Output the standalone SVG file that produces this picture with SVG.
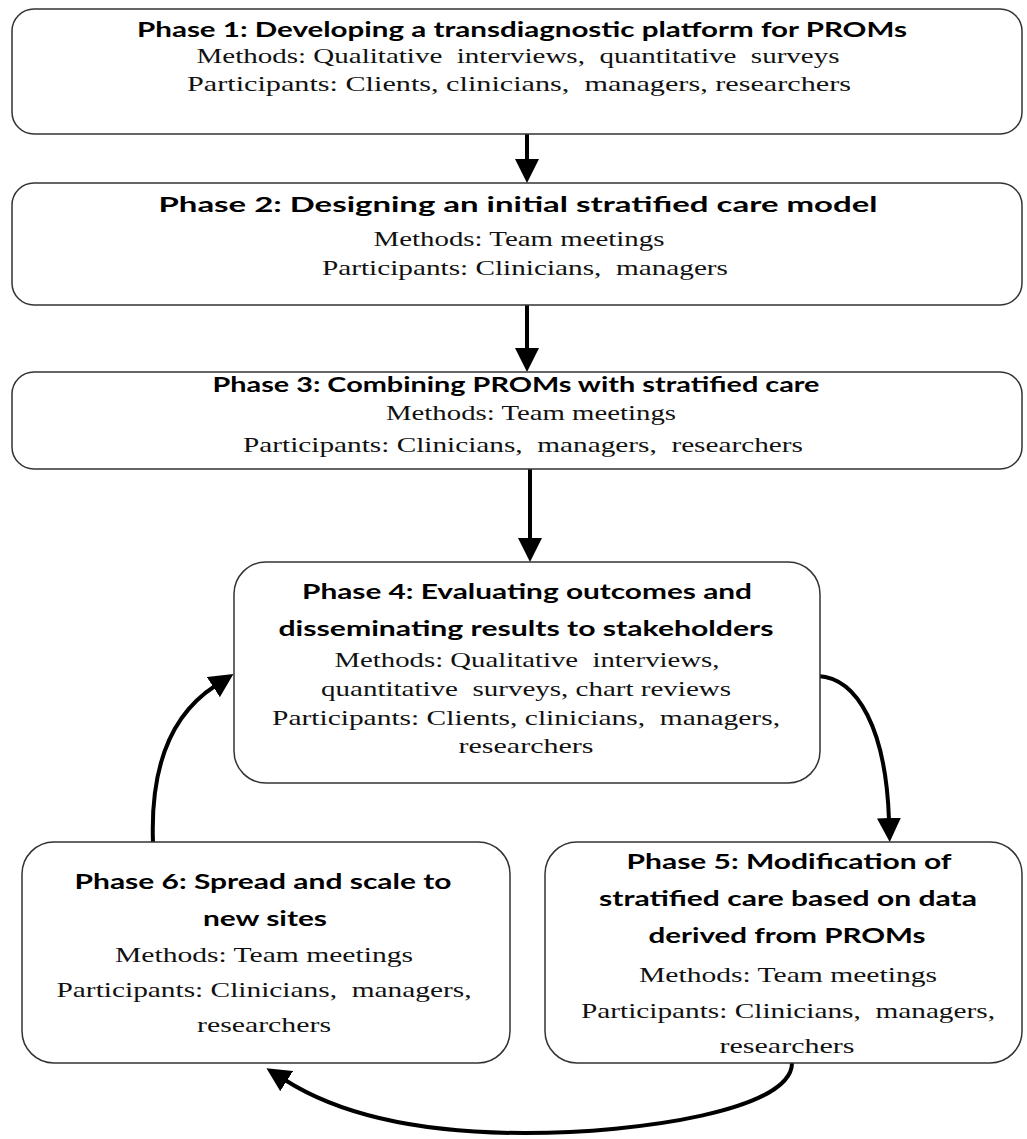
<svg xmlns="http://www.w3.org/2000/svg" width="1027" height="1139" viewBox="0 0 1027 1139">
<style>
.box{fill:#fff;stroke:#333;stroke-width:1.5}
.t{font-family:Lato,"Open Sans","Liberation Sans",sans-serif;font-weight:700;font-size:21px;fill:#000;text-anchor:middle}
.s{font-family:"Liberation Serif","Times New Roman",serif;font-size:21px;fill:#111;text-anchor:middle;white-space:pre}
.c{fill:none;stroke:#000;stroke-width:4}
</style>
<defs>
<marker id="ah" viewBox="0 0 24 24" refX="2" refY="12" markerWidth="24" markerHeight="24" markerUnits="userSpaceOnUse" orient="auto">
<path d="M0,0 L24,12 L0,24 z" fill="#000"/>
</marker>
</defs>
<rect width="1027" height="1139" fill="#fff"/>
<g id="connectors">
<path class="c" d="M527,134 V161" marker-end="url(#ah)"/>
<path class="c" d="M527,305 V350" marker-end="url(#ah)"/>
<path class="c" d="M530,469 V540" marker-end="url(#ah)"/>
<path class="c" d="M818,676 C858,678 886,730 889,820" marker-end="url(#ah)"/>
<path class="c" d="M792,1063 C792,1110 640,1133 525,1133 C420,1133 340,1115 285,1080" marker-end="url(#ah)"/>
<path class="c" d="M153,842 C150,760 175,712 215,686" marker-end="url(#ah)"/>
</g>
<g id="phase1">
<rect class="box" x="12" y="9" width="1010" height="125" rx="22"/>
<text class="t" x="522" y="37" textLength="770" lengthAdjust="spacingAndGlyphs">Phase 1: Developing a transdiagnostic platform for PROMs</text>
<text class="s" x="518" y="63" textLength="643" lengthAdjust="spacingAndGlyphs">Methods: Qualitative  interviews,  quantitative  surveys</text>
<text class="s" x="519" y="91" textLength="664" lengthAdjust="spacingAndGlyphs">Participants: Clients, clinicians,  managers, researchers</text>
</g>
<g id="phase2">
<rect class="box" x="12" y="183" width="1010" height="122" rx="22"/>
<text class="t" x="518" y="212" textLength="719" lengthAdjust="spacingAndGlyphs">Phase 2: Designing an initial stratified care model</text>
<text class="s" x="519" y="246" textLength="291" lengthAdjust="spacingAndGlyphs">Methods: Team meetings</text>
<text class="s" x="525" y="275" textLength="406" lengthAdjust="spacingAndGlyphs">Participants: Clinicians,  managers</text>
</g>
<g id="phase3">
<rect class="box" x="12" y="372" width="1010" height="97" rx="22"/>
<text class="t" x="516" y="392" textLength="607" lengthAdjust="spacingAndGlyphs">Phase 3: Combining PROMs with stratified care</text>
<text class="s" x="531" y="420" textLength="290" lengthAdjust="spacingAndGlyphs">Methods: Team meetings</text>
<text class="s" x="523" y="452" textLength="560" lengthAdjust="spacingAndGlyphs">Participants: Clinicians,  managers,  researchers</text>
</g>
<g id="phase4">
<rect class="box" x="234" y="562" width="586" height="221" rx="32"/>
<text class="t" x="527" y="599" textLength="450" lengthAdjust="spacingAndGlyphs">Phase 4: Evaluating outcomes and</text>
<text class="t" x="526" y="636" textLength="495" lengthAdjust="spacingAndGlyphs">disseminating results to stakeholders</text>
<text class="s" x="527" y="667" textLength="385" lengthAdjust="spacingAndGlyphs">Methods: Qualitative  interviews,</text>
<text class="s" x="526" y="696" textLength="410" lengthAdjust="spacingAndGlyphs">quantitative  surveys, chart reviews</text>
<text class="s" x="526" y="725" textLength="508" lengthAdjust="spacingAndGlyphs">Participants: Clients, clinicians,  managers,</text>
<text class="s" x="526" y="753" textLength="135" lengthAdjust="spacingAndGlyphs">researchers</text>
</g>
<g id="phase5">
<rect class="box" x="545" y="842" width="477" height="221" rx="32"/>
<text class="t" x="789" y="869" textLength="325" lengthAdjust="spacingAndGlyphs">Phase 5: Modification of</text>
<text class="t" x="788" y="906" textLength="378" lengthAdjust="spacingAndGlyphs">stratified care based on data</text>
<text class="t" x="787" y="943" textLength="277" lengthAdjust="spacingAndGlyphs">derived from PROMs</text>
<text class="s" x="788" y="982" textLength="298" lengthAdjust="spacingAndGlyphs">Methods: Team meetings</text>
<text class="s" x="788" y="1018" textLength="414" lengthAdjust="spacingAndGlyphs">Participants: Clinicians,  managers,</text>
<text class="s" x="787" y="1053" textLength="135" lengthAdjust="spacingAndGlyphs">researchers</text>
</g>
<g id="phase6">
<rect class="box" x="22" y="842" width="488" height="221" rx="32"/>
<text class="t" x="263" y="889" textLength="377" lengthAdjust="spacingAndGlyphs">Phase 6: Spread and scale to</text>
<text class="t" x="265" y="926" textLength="124" lengthAdjust="spacingAndGlyphs">new sites</text>
<text class="s" x="264" y="962" textLength="298" lengthAdjust="spacingAndGlyphs">Methods: Team meetings</text>
<text class="s" x="264" y="997" textLength="415" lengthAdjust="spacingAndGlyphs">Participants: Clinicians,  managers,</text>
<text class="s" x="264" y="1032" textLength="134" lengthAdjust="spacingAndGlyphs">researchers</text>
</g>
</svg>
